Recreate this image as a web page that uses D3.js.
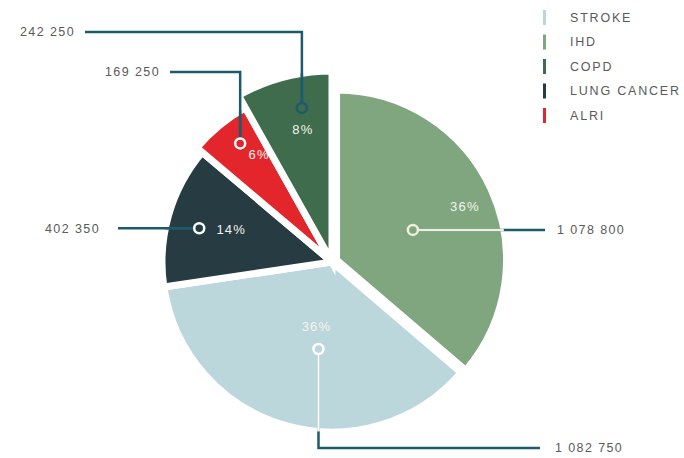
<!DOCTYPE html>
<html>
<head>
<meta charset="utf-8">
<script src="https://cdn.jsdelivr.net/npm/d3@7"></script>
<style>
body { margin: 0; background: #fff; }
svg { font-family: "Liberation Sans", Arial, sans-serif; }
.val { fill: #5a5a5a; font-size: 12.5px; letter-spacing: 1.4px; }
.pct { fill: #f4f4ee; font-size: 13px; letter-spacing: 1.2px; }
.leg { fill: #5a5a5a; font-size: 12.5px; letter-spacing: 1.8px; }
</style>
</head>
<body>
<svg width="684" height="458"></svg>
<script>
var categories = [ "IHD", "STROKE", "LUNG CANCER", "ALRI", "COPD" ];
var values = [ 1078800, 1082750, 402350, 169250, 242250 ];
var legendOrder = [ "STROKE", "IHD", "COPD", "LUNG CANCER", "ALRI" ];

var colors = d3.scaleOrdinal().domain(categories).range(
		[ "#7fa67e", "#bcd7dc", "#263b42", "#e2262c", "#3f6c4c" ]);
var teal = "#1d5a6c";

// per slice layout: outer radius, explode, marker radius/angle shift, leader route, label offsets
var layout = {
	"IHD" : { r : 170, off : 5, ring : 82, da : 3.3, inner : "#eef0dc",
		ringCol : "#eef0dc", route : "right", end : 545, gap : 12, px : 52, py : -23 },
	"STROKE" : { r : 170, off : 0, ring : 88, da : -7.2, inner : "#ffffff",
		ringCol : "#ffffff", route : "downRight", turn : 448, end : 540, gap : 15,
		px : -2, py : -23 },
	"LUNG CANCER" : { r : 170, off : 0, ring : 137, da : -1.6, inner : teal,
		ringCol : "#ffffff", route : "left", end : 118, gap : 18, px : 32, py : 1 },
	"ALRI" : { r : 177, off : 0, ring : 150, da : 1.8, inner : teal,
		ringCol : "#ffffff", route : "upLeft", turn : 72, end : 170, gap : 10,
		px : 19, py : 11 },
	"COPD" : { r : 191, off : 0, ring : 157, da : 3.6, inner : teal,
		ringCol : teal, route : "upLeft", turn : 32, end : 85, gap : 10,
		px : 1, py : 22 }
};

var cx = 332, cy = 262;
var svg = d3.select("svg");

var total = d3.sum(values);
var data = categories.map(function(c, i) {
	return { name : c, value : values[i] };
});
var pie = d3.pie().sort(null).value(function(d) {
	return d.value;
});
var arcs = pie(data);

arcs.forEach(function(d) {
	var L = layout[d.data.name];
	var mid = (d.startAngle + d.endAngle) / 2;
	d.ox = cx + L.off * Math.sin(mid);
	d.oy = cy - L.off * Math.cos(mid);
});

svg.append("g").selectAll("path").data(arcs).enter().append("path")
		.attr("transform", function(d) {
			return "translate(" + d.ox + "," + d.oy + ")";
		}).attr("fill", function(d) {
			return colors(d.data.name);
		}).attr("stroke", "#fff").attr("stroke-width", 7)
		.attr("d", function(d) {
			return d3.arc().innerRadius(0).outerRadius(layout[d.data.name].r)(d);
		});

var fmt = d3.formatLocale({ decimal : ".", thousands : " ", grouping : [ 3 ],
	currency : [ "", "" ] }).format(",");

var ann = svg.append("g");
arcs.forEach(function(d) {
	var L = layout[d.data.name];
	var a = (d.startAngle + d.endAngle) / 2 + L.da * Math.PI / 180;
	var rx = L.ring * Math.sin(a), ry = -L.ring * Math.cos(a);
	var x = d.ox + rx, y = d.oy + ry;
	var edge, pts;
	if (L.route == "right") {
		edge = [ d.ox + Math.sqrt(L.r * L.r - ry * ry), y ];
		pts = [ [ x, y ], [ L.end, y ] ];
	} else if (L.route == "left") {
		edge = [ d.ox - Math.sqrt(L.r * L.r - ry * ry), y ];
		pts = [ [ x, y ], [ L.end, y ] ];
	} else if (L.route == "downRight") {
		edge = [ x, d.oy + Math.sqrt(L.r * L.r - rx * rx) ];
		pts = [ [ x, y ], [ x, L.turn ], [ L.end, L.turn ] ];
	} else {
		edge = [ x, d.oy - Math.sqrt(L.r * L.r - rx * rx) ];
		pts = [ [ x, y ], [ x, L.turn ], [ L.end, L.turn ] ];
	}
	ann.append("path").attr("d", d3.line()(pts)).attr("fill", "none")
			.attr("stroke", teal).attr("stroke-width", 2.5);
	ann.append("line").attr("x1", x).attr("y1", y).attr("x2", edge[0])
			.attr("y2", edge[1]).attr("stroke", L.inner)
			.attr("stroke-width", 2.5);
	ann.append("circle").attr("cx", x).attr("cy", y).attr("r", 5)
			.attr("fill", colors(d.data.name)).attr("stroke", L.ringCol)
			.attr("stroke-width", 2.5);
	ann.append("text").attr("class", "pct").attr("x", x + L.px)
			.attr("y", y + L.py).attr("dy", "0.35em")
			.attr("text-anchor", "middle")
			.text(Math.round(d.data.value / total * 100) + "%");
	var last = pts[pts.length - 1];
	var right = last[0] > cx;
	ann.append("text").attr("class", "val")
			.attr("x", last[0] + (right ? L.gap : -L.gap)).attr("y", last[1])
			.attr("dy", "0.35em").attr("text-anchor", right ? "start" : "end")
			.text(fmt(d.data.value));
});

var legend = svg.append("g").selectAll("g").data(legendOrder).enter()
		.append("g").attr("transform", function(d, i) {
			return "translate(543," + (10 + i * 24.5) + ")";
		});
legend.append("rect").attr("width", 3).attr("height", 15).attr("fill", colors);
legend.append("text").attr("class", "leg").attr("x", 27).attr("y", 7.5)
		.attr("dy", "0.35em").text(function(d) {
			return d;
		});
</script>
</body>
</html>
